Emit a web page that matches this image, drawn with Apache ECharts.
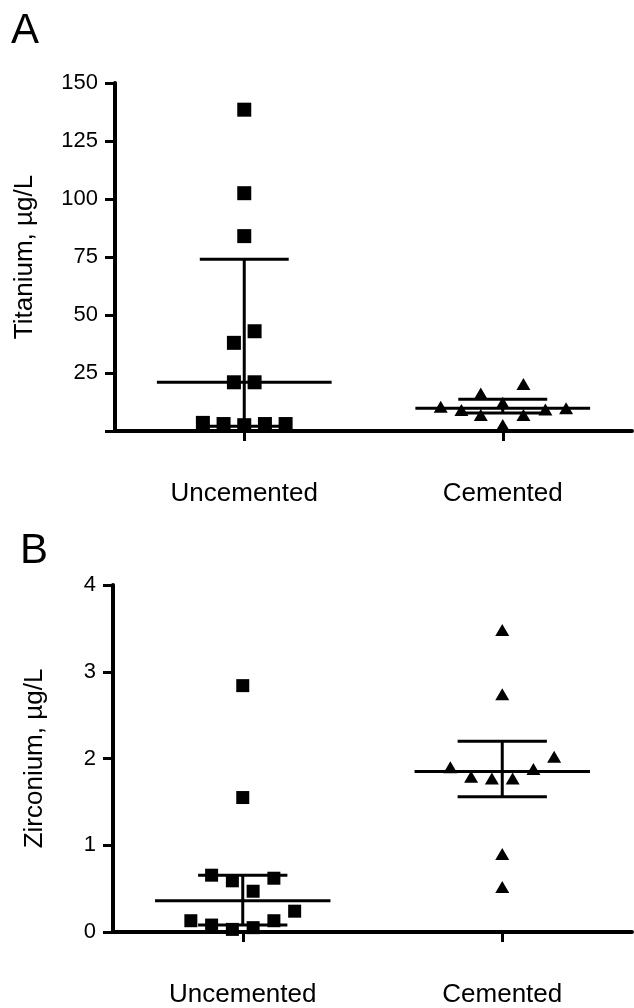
<!DOCTYPE html>
<html>
<head>
<meta charset="utf-8">
<script src="https://cdn.jsdelivr.net/npm/echarts@6/dist/echarts.min.js"></script>
<style>
html, body { margin: 0; padding: 0; background: #fff; }
#chart { width: 634px; height: 1008px; }
</style>
</head>
<body>
<div id="chart"></div>
<script>
// groups on the x axis
var groups = ['Uncemented', 'Cemented'];

// panel A - titanium, ug/L
var tiUncemented = [138.5, 102.5, 84, 43, 38, 21, 21, 3.5, 3, 2.5, 3, 3];
var tiUncementedJitter = [0, 0, 0, 0.04, -0.04, -0.04, 0.04, -0.16, -0.08, 0, 0.08, 0.16];
var tiCemented = [10.5, 9.1, 16.2, 6.9, 12.2, 2.6, 20.3, 6.9, 9.3, 9.8];
var tiCementedJitter = [-0.24, -0.16, -0.085, -0.085, 0, 0, 0.08, 0.08, 0.165, 0.245];
// median, lower quartile, upper quartile per group
var tiSummary = [[21, 2, 74], [9.8, 7.8, 13.7]];
var tiTicks = [0, 150, 25]; // min, max, step

// panel B - zirconium, ug/L
var zrUncemented = [2.84, 1.55, 0.655, 0.59, 0.62, 0.47, 0.24, 0.13, 0.08, 0.13, 0.03, 0.05];
var zrUncementedJitter = [0, 0, -0.12, -0.04, 0.12, 0.04, 0.2, -0.2, -0.12, 0.12, -0.04, 0.04];
var zrCemented = [3.48, 2.74, 2.02, 1.9, 1.79, 1.77, 1.77, 1.88, 0.9, 0.52];
var zrCementedJitter = [0, 0, 0.2, -0.2, -0.12, -0.04, 0.04, 0.12, 0, 0];
var zrSummary = [[0.36, 0.08, 0.655], [1.85, 1.56, 2.2]];
var zrTicks = [0, 4, 1];

var FONT = 'Liberation Sans';
var MED_HALF = 0.338;  // half width of median line, in group units
var CAP_HALF = 0.172;  // half width of quartile caps

function points (vals, jitter, g) {
  return vals.map(function (v, i) { return [g + 1 + jitter[i], v]; });
}
function summaryData (sum) {
  return sum.map(function (s, g) { return [g + 1, s[0], s[1], s[2]]; });
}

function whiskerItem (params, api) {
  var x = api.value(0), med = api.value(1), lo = api.value(2), hi = api.value(3);
  function seg (x1, y1, x2, y2) {
    var a = api.coord([x1, y1]), b = api.coord([x2, y2]);
    return {
      type: 'line',
      shape: { x1: a[0], y1: a[1], x2: b[0], y2: b[1] },
      style: { stroke: '#000', lineWidth: 3 }
    };
  }
  return {
    type: 'group',
    children: [
      seg(x - MED_HALF, med, x + MED_HALF, med),
      seg(x, lo, x, hi),
      seg(x - CAP_HALF, lo, x + CAP_HALF, lo),
      seg(x - CAP_HALF, hi, x + CAP_HALF, hi)
    ]
  };
}

function catAxis (gi) {
  return {
    type: 'category',
    gridIndex: gi,
    data: groups,
    boundaryGap: true,
    axisLine: { show: true, lineStyle: { color: '#000', width: 4 } },
    axisTick: { show: true, alignWithLabel: true, length: 10, lineStyle: { color: '#000', width: 3 } },
    axisLabel: { color: '#000', fontSize: 26, fontFamily: FONT, margin: 50 },
    splitLine: { show: false }
  };
}
function posAxis (gi) {
  return { type: 'value', gridIndex: gi, min: 0.5, max: 2.5, show: false, splitLine: { show: false } };
}
function valAxis (gi, ticks, name, gap, hideZero) {
  return {
    type: 'value',
    gridIndex: gi,
    min: ticks[0],
    max: ticks[1],
    interval: ticks[2],
    name: name,
    nameLocation: 'middle',
    nameGap: gap,
    nameTextStyle: { color: '#000', fontSize: 26, fontFamily: FONT },
    axisLine: { show: true, lineStyle: { color: '#000', width: 4 } },
    axisTick: { show: true, length: 10, lineStyle: { color: '#000', width: 3 } },
    axisLabel: {
      color: '#000', fontSize: 22, fontFamily: FONT, margin: 17,
      formatter: function (v) { return (hideZero && v === 0) ? '' : String(v); }
    },
    splitLine: { show: false }
  };
}

function scatter (data, xi, yi, symbol, size) {
  return {
    type: 'scatter',
    xAxisIndex: xi,
    yAxisIndex: yi,
    symbol: symbol,
    symbolSize: size,
    itemStyle: { color: '#000', opacity: 1 },
    z: 4,
    data: data
  };
}
function whiskers (data, xi, yi) {
  return {
    type: 'custom',
    xAxisIndex: xi,
    yAxisIndex: yi,
    renderItem: whiskerItem,
    z: 3,
    data: data
  };
}

var chart = echarts.init(document.getElementById('chart'));
chart.setOption({
  backgroundColor: '#fff',
  animation: false,
  textStyle: { fontFamily: FONT },
  grid: [
    { left: 115, right: 2, top: 83, height: 348 },
    { left: 113, right: 2, top: 585, height: 348 }
  ],
  xAxis: [catAxis(0), posAxis(0), catAxis(1), posAxis(1)],
  yAxis: [
    valAxis(0, tiTicks, 'Titanium, µg/L', 77, true),
    valAxis(1, zrTicks, 'Zirconium, µg/L', 65, false)
  ],
  graphic: [
    { type: 'text', left: 11, top: 10, style: { text: 'A', font: '42px "Liberation Sans"', fill: '#000' } },
    { type: 'text', left: 20, top: 530, style: { text: 'B', font: '42px "Liberation Sans"', fill: '#000' } }
  ],
  series: [
    whiskers(summaryData(tiSummary), 1, 0),
    scatter(points(tiUncemented, tiUncementedJitter, 0), 1, 0, 'rect', 14),
    scatter(points(tiCemented, tiCementedJitter, 1), 1, 0, 'triangle', [14, 12]),
    whiskers(summaryData(zrSummary), 3, 1),
    scatter(points(zrUncemented, zrUncementedJitter, 0), 3, 1, 'rect', 13),
    scatter(points(zrCemented, zrCementedJitter, 1), 3, 1, 'triangle', [14, 12])
  ]
});
</script>
</body>
</html>
